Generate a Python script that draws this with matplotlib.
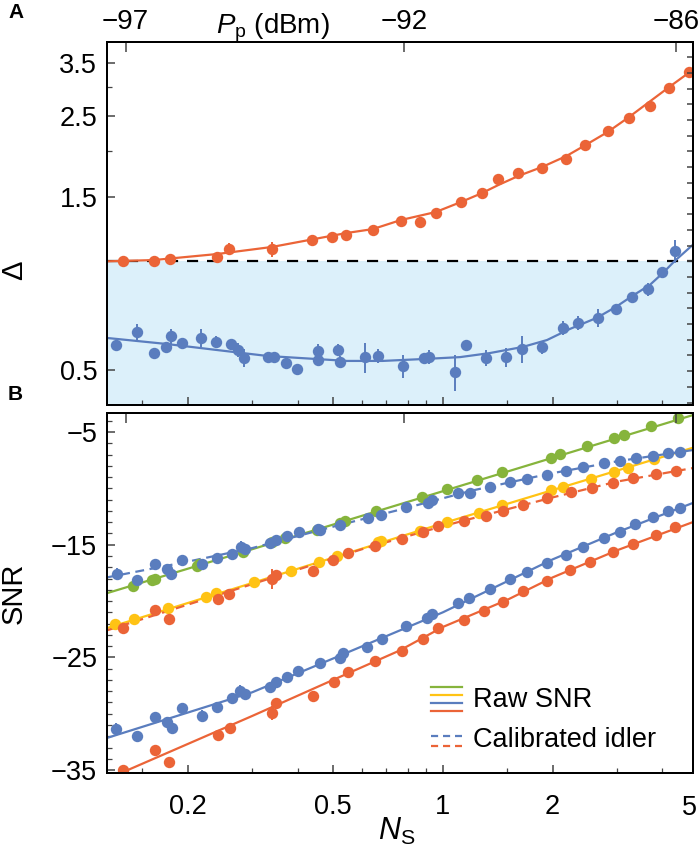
import matplotlib
matplotlib.use('Agg')
import matplotlib.pyplot as plt
from matplotlib.ticker import FixedLocator, NullFormatter, FixedFormatter
from matplotlib.transforms import blended_transform_factory

plt.rcParams['font.family'] = ['Liberation Sans', 'DejaVu Sans']
plt.rcParams['mathtext.fontset'] = 'custom'
plt.rcParams['mathtext.rm'] = 'Liberation Sans'
plt.rcParams['mathtext.it'] = 'Liberation Sans:italic'

ORANGE = '#EB6437'
BLUE = '#5A7DBE'
GREEN = '#86B43C'
YELLOW = '#FFC314'
SHADE = '#DCF0FA'

# ---- panel A: Delta vs N_S ----
a_orange_ns = [0.133, 0.161, 0.179, 0.240, 0.259, 0.340, 0.437, 0.496, 0.542, 0.643, 0.767, 0.865,
               0.955, 1.12, 1.28, 1.42, 1.61, 1.87, 2.18, 2.46, 2.83, 3.23, 3.69, 4.18, 4.74]
a_orange_delta = [0.997, 0.997, 1.01, 1.02, 1.076, 1.076, 1.139, 1.161, 1.175, 1.213, 1.285, 1.277,
                  1.352, 1.449, 1.534, 1.677, 1.742, 1.798, 1.905, 2.08, 2.27, 2.47, 2.66, 2.99, 3.31]
a_orange_err = [0.01, 0.01, 0.02, 0.02, 0.04, 0.05, 0.04, 0.015, 0.01, 0.02, 0.015, 0.015,
                0.015, 0.015, 0.015, 0.02, 0.015, 0.02, 0.02, 0.05, 0.02, 0.02, 0.02, 0.02, 0.02]

a_blue_ns = [0.127, 0.145, 0.161, 0.174, 0.180, 0.193, 0.217, 0.239, 0.262, 0.274,
             0.285, 0.331, 0.344, 0.371, 0.398, 0.454, 0.454, 0.515, 0.523, 0.611,
             0.663, 0.776, 0.887, 0.915, 1.078, 1.155, 1.31, 1.486, 1.645, 1.87,
             2.13, 2.34, 2.67, 2.98, 3.29, 3.66, 3.98, 4.32]
a_blue_delta = [0.585, 0.635, 0.556, 0.578, 0.619, 0.593, 0.612, 0.597, 0.589, 0.567,
                0.539, 0.542, 0.542, 0.522, 0.503, 0.563, 0.532, 0.567, 0.526, 0.542,
                0.545, 0.512, 0.539, 0.542, 0.493, 0.585, 0.539, 0.542, 0.571, 0.578,
                0.652, 0.673, 0.695, 0.735, 0.793, 0.835, 0.930, 1.062]
a_blue_err = [0.015, 0.035, 0.018, 0.01, 0.03, 0.008, 0.034, 0.022, 0.01, 0.025,
              0.03, 0.008, 0.008, 0.018, 0.016, 0.025, 0.02, 0.021, 0.02, 0.052,
              0.024, 0.036, 0.01, 0.024, 0.055, 0.017, 0.027, 0.034, 0.048, 0.024,
              0.03, 0.031, 0.04, 0.026, 0.012, 0.035, 0.022, 0.075]

a_orange_fit_ns = [0.12, 0.161, 0.240, 0.340, 0.542, 0.643, 0.767, 0.955, 1.12, 1.28, 1.42,
                   1.61, 1.87, 2.18, 2.46, 2.83, 3.23, 4.18, 4.84]
a_orange_fit = [0.995, 1.003, 1.042, 1.09, 1.19, 1.221, 1.293, 1.36, 1.449, 1.534, 1.615,
                1.71, 1.81, 1.94, 2.08, 2.26, 2.48, 3.01, 3.35]
a_blue_fit_ns = [0.12, 0.175, 0.240, 0.330, 0.546, 0.683, 0.903, 1.115, 1.344, 1.655, 1.93,
                 2.23, 2.64, 2.98, 3.30, 3.69, 4.01, 4.32, 4.84]
a_blue_fit = [0.612, 0.589, 0.567, 0.546, 0.529, 0.529, 0.536, 0.542, 0.556, 0.578, 0.604,
              0.648, 0.695, 0.745, 0.798, 0.856, 0.924, 0.997, 1.104]

pump_dbm = [-97, -92, -86]
pump_ns = [0.135, 0.782, 4.37]

# ---- panel B: SNR vs N_S ----
green_ns = [0.141, 0.159, 0.162, 0.212, 0.214, 0.283, 0.340, 0.369, 0.451, 0.523, 0.538, 0.655,
            0.875, 1.025, 1.239, 1.45, 1.975, 2.10, 2.49, 2.94, 3.13, 3.73, 4.40]
green_snr = [-18.66, -18.13, -18.04, -16.89, -16.71, -15.65, -14.76, -14.41, -13.70, -13.07, -12.90,
             -12.01, -10.77, -10.06, -9.26, -8.55, -7.31, -6.95, -6.24, -5.53, -5.27, -4.47, -3.76]

bluecal_ns = [0.128, 0.145, 0.162, 0.175, 0.180, 0.193, 0.218, 0.240, 0.264, 0.279,
              0.287, 0.335, 0.348, 0.373, 0.403, 0.454, 0.460, 0.523, 0.623, 0.676,
              0.791, 0.909, 0.932, 1.098, 1.185, 1.344, 1.525, 1.70, 1.93, 2.18,
              2.42, 2.76, 3.05, 3.39, 3.76, 4.13, 4.48]
bluecal_snr = [-17.60, -18.13, -16.71, -17.16, -17.60, -16.36, -16.71, -16.18, -15.83, -15.20,
               -15.38, -14.85, -14.58, -14.23, -13.87, -13.61, -13.70, -13.25, -12.63, -12.36,
               -11.65, -11.30, -11.03, -10.41, -10.41, -9.88, -9.44, -9.17, -8.82, -8.46,
               -8.11, -7.75, -7.57, -7.31, -7.13, -6.86, -6.77]
bluecal_err = [0.55, 0.35, 0.35, 0.15, 0.5, 0.25, 0.45, 0.25, 0.15, 0.5,
               0.15, 0.15, 0.15, 0.2, 0.25, 0.2, 0.2, 0.15, 0.15, 0.15,
               0.15, 0.15, 0.15, 0.15, 0.15, 0.15, 0.15, 0.15, 0.15, 0.15,
               0.15, 0.15, 0.15, 0.15, 0.15, 0.15, 0.15]

yellow_ns = [0.126, 0.142, 0.176, 0.224, 0.239, 0.303, 0.383, 0.457, 0.512, 0.663, 0.676,
             0.864, 1.025, 1.255, 1.45, 1.975, 2.13, 2.55, 2.94, 3.21, 3.78]
yellow_snr = [-22.04, -21.59, -20.62, -19.64, -19.29, -18.31, -17.33, -16.54, -16.00, -14.76, -14.67,
              -13.78, -12.99, -12.19, -11.48, -10.15, -9.88, -9.17, -8.55, -8.19, -7.40]

orangecal_ns = [0.133, 0.162, 0.177, 0.242, 0.260, 0.340, 0.348, 0.440, 0.500, 0.549, 0.651, 0.772,
                0.880, 0.968, 1.14, 1.31, 1.46, 1.655, 1.93, 2.25, 2.56, 2.92, 3.33, 3.85, 4.36]
orangecal_snr = [-22.39, -20.79, -21.59, -19.82, -19.40, -18.04, -17.69, -17.33, -16.36, -15.74,
                 -15.12, -14.49, -13.87, -13.34, -12.90, -12.45, -12.01, -11.48, -10.86, -10.32,
                 -9.97, -9.53, -9.08, -8.73, -8.46]
orangecal_err = [0.4, 0.15, 0.15, 0.45, 0.35, 0.9, 0.3, 0.2, 0.15, 0.15, 0.15, 0.15,
                 0.15, 0.15, 0.15, 0.15, 0.15, 0.15, 0.15, 0.15, 0.15, 0.15, 0.15, 0.15, 0.15]

blueraw_ns = [0.127, 0.145, 0.162, 0.175, 0.181, 0.193, 0.218, 0.240, 0.264, 0.278,
              0.287, 0.335, 0.348, 0.373, 0.400, 0.460, 0.523, 0.532, 0.619, 0.680,
              0.791, 0.903, 0.932, 1.098, 1.178, 1.344, 1.525, 1.70, 1.93, 2.18,
              2.42, 2.76, 3.05, 3.37, 3.76, 4.13, 4.48]
blueraw_snr = [-31.35, -31.97, -30.29, -30.73, -31.26, -29.49, -30.20, -29.40, -28.60, -27.98,
               -28.25, -27.63, -27.18, -26.74, -26.21, -25.50, -25.05, -24.61, -24.08, -23.37,
               -22.21, -21.50, -21.15, -20.17, -19.73, -18.93, -18.04, -17.42, -16.62, -15.91,
               -15.20, -14.41, -13.87, -13.16, -12.54, -12.01, -11.74]
blueraw_err = [0.5, 0.45, 0.45, 0.15, 0.55, 0.2, 0.5, 0.2, 0.15, 0.55,
               0.15, 0.15, 0.2, 0.15, 0.2, 0.35, 0.15, 0.15, 0.2, 0.15,
               0.15, 0.15, 0.2, 0.15, 0.15, 0.15, 0.15, 0.15, 0.15, 0.15,
               0.15, 0.15, 0.15, 0.15, 0.15, 0.15, 0.15]

orangeraw_ns = [0.133, 0.162, 0.177, 0.242, 0.261, 0.340, 0.348, 0.440, 0.503, 0.549, 0.651, 0.772,
                0.880, 0.968, 1.14, 1.294, 1.46, 1.655, 1.93, 2.23, 2.53, 2.92, 3.33, 3.85, 4.32]
orangeraw_snr = [-34.99, -33.22, -34.28, -31.89, -31.26, -29.93, -29.05, -28.43, -27.18, -26.30,
                 -25.32, -24.43, -23.37, -22.39, -21.68, -20.88, -20.08, -19.11, -18.22, -17.24,
                 -16.54, -15.65, -14.94, -14.14, -13.43]
orangeraw_err = [0.3, 0.15, 0.15, 0.45, 0.3, 0.6, 0.45, 0.2, 0.15, 0.15, 0.15, 0.15,
                 0.15, 0.15, 0.15, 0.15, 0.15, 0.15, 0.15, 0.15, 0.15, 0.15, 0.15, 0.15, 0.15]

# fitted curves
green_fit_ns = [0.12, 0.3, 1.0, 4.84]
green_fit = [-19.3, -15.4, -10.25, -3.5]
bluecal_fit_ns = [0.12, 0.2, 0.3, 0.5, 0.76, 1.2, 1.96, 3.0, 4.84]
bluecal_fit = [-17.9, -16.5, -15.3, -13.4, -11.9, -10.2, -8.7, -7.6, -6.6]
yellow_fit_ns = [0.12, 0.3, 1.0, 2.0, 4.84]
yellow_fit = [-22.4, -18.4, -13.1, -10.15, -6.4]
orangecal_fit_ns = [0.12, 0.3, 0.6, 1.0, 2.0, 3.0, 4.84]
orangecal_fit = [-22.6, -18.5, -15.4, -13.35, -10.8, -9.4, -8.2]
blueraw_fit_ns = [0.12, 0.3, 0.5, 1.0, 2.0, 3.0, 4.84]
blueraw_fit = [-32.15, -28.1, -25.1, -21.0, -16.3, -13.9, -11.3]
orangeraw_fit_ns = [0.12, 0.3, 0.5, 0.76, 1.0, 1.5, 2.0, 3.0, 4.84]
orangeraw_fit = [-35.8, -30.2, -27.0, -24.4, -22.3, -19.9, -17.9, -15.5, -13.0]

ns_major = [0.2, 0.5, 1, 2, 5]
ns_major_labels = ['0.2', '0.5', '1', '2', '5']
ns_minor = [0.15, 0.3, 0.4, 0.6, 0.7, 0.8, 0.9, 1.5, 3, 4]

XLIM = (0.12, 4.85)
TICK_COLOR = '#444444'
FS = 19.5
MS = 8.2


def style_ticks(ax):
    ax.tick_params(which='both', direction='in', color=TICK_COLOR, labelsize=FS)
    ax.tick_params(which='major', length=6, width=1.1)
    ax.tick_params(which='minor', length=3.5, width=0.9)
    for s in ax.spines.values():
        s.set_linewidth(1.4)


fig = plt.figure(figsize=(7, 8.49), dpi=100)
axA = fig.add_axes([107 / 700, 1 - 405 / 849, 586 / 700, 363 / 849])
axB = fig.add_axes([107 / 700, 1 - 773 / 849, 586 / 700, 360 / 849])

ekw = dict(fmt='o', ms=MS, mew=0, capsize=3.2, elinewidth=1.4, capthick=1.4, zorder=3)

# ---------- A ----------
axA.set_xscale('log')
axA.set_yscale('log')
axA.set_xlim(*XLIM)
axA.set_ylim(0.4, 4.0)
axA.axhspan(0.4, 1.0, color=SHADE, lw=0, zorder=0)
axA.axhline(1.0, color='black', lw=1.6, dashes=(5, 4), zorder=1)
axA.plot(a_orange_fit_ns, a_orange_fit, color=ORANGE, lw=1.6, zorder=2)
axA.plot(a_blue_fit_ns, a_blue_fit, color=BLUE, lw=1.6, zorder=2)
axA.errorbar(a_orange_ns, a_orange_delta, yerr=a_orange_err, color=ORANGE, **ekw)
axA.errorbar(a_blue_ns, a_blue_delta, yerr=a_blue_err, color=BLUE, **ekw)

axA.xaxis.set_major_locator(FixedLocator(ns_major))
axA.xaxis.set_minor_locator(FixedLocator(ns_minor))
axA.xaxis.set_major_formatter(NullFormatter())
axA.xaxis.set_minor_formatter(NullFormatter())
axA.yaxis.set_major_locator(FixedLocator([0.5, 1.5, 2.5, 3.5]))
axA.yaxis.set_major_formatter(FixedFormatter(['0.5', '1.5', '2.5', '3.5']))
axA.yaxis.set_minor_locator(FixedLocator([2, 3]))
axA.yaxis.set_minor_formatter(NullFormatter())
style_ticks(axA)
axA.tick_params(axis='y', pad=7)

# top axis: pump power
topA = axA.twiny()
topA.set_xscale('log')
topA.set_xlim(*XLIM)
topA.xaxis.set_major_locator(FixedLocator(pump_ns))
topA.xaxis.set_major_formatter(FixedFormatter(['\u2212%d' % abs(v) for v in pump_dbm]))
topA.xaxis.set_minor_locator(FixedLocator([]))
style_ticks(topA)
topA.tick_params(axis='x', length=7, pad=5, labelsize=20)

# right axis: unlabeled evenly spaced ticks
rightA = axA.twinx()
rightA.set_yscale('log')
rightA.set_ylim(0.4, 4.0)
rightA.yaxis.set_major_locator(FixedLocator([10 ** (-0.348 + 0.04325 * k) for k in range(-1, 23)]))
rightA.yaxis.set_major_formatter(NullFormatter())
rightA.yaxis.set_minor_locator(FixedLocator([]))
style_ticks(rightA)
rightA.tick_params(axis='y', length=4)

# ---------- B ----------
axB.set_xscale('log')
axB.set_xlim(*XLIM)
axB.set_ylim(-35.26, -3.31)

fits = [
    (green_fit_ns, green_fit, GREEN, '-'),
    (yellow_fit_ns, yellow_fit, YELLOW, '-'),
    (blueraw_fit_ns, blueraw_fit, BLUE, '-'),
    (orangeraw_fit_ns, orangeraw_fit, ORANGE, '-'),
    (bluecal_fit_ns, bluecal_fit, BLUE, '--'),
    (orangecal_fit_ns, orangecal_fit, ORANGE, '--'),
]
for xs, ys, c, ls in fits:
    line, = axB.plot(xs, ys, color=c, lw=1.6, ls=ls, zorder=2)
    if ls == '--':
        line.set_dashes((4, 2.5))

axB.errorbar(green_ns, green_snr, yerr=0.1, color=GREEN, **ekw)
axB.errorbar(yellow_ns, yellow_snr, yerr=0.1, color=YELLOW, **ekw)
axB.errorbar(orangecal_ns, orangecal_snr, yerr=orangecal_err, color=ORANGE, **ekw)
axB.errorbar(bluecal_ns, bluecal_snr, yerr=bluecal_err, color=BLUE, **ekw)
axB.errorbar(orangeraw_ns, orangeraw_snr, yerr=orangeraw_err, color=ORANGE, **ekw)
axB.errorbar(blueraw_ns, blueraw_snr, yerr=blueraw_err, color=BLUE, **ekw)

axB.xaxis.set_major_locator(FixedLocator(ns_major))
axB.xaxis.set_major_formatter(FixedFormatter(ns_major_labels))
axB.xaxis.set_minor_locator(FixedLocator(ns_minor))
axB.xaxis.set_minor_formatter(NullFormatter())
axB.yaxis.set_major_locator(FixedLocator([-5, -15, -25, -35]))
axB.yaxis.set_major_formatter(FixedFormatter(['\u22125', '\u221215', '\u221225', '\u221235']))
axB.yaxis.set_minor_locator(FixedLocator(list(range(-35, -3))))
axB.yaxis.set_minor_formatter(NullFormatter())
style_ticks(axB)
axB.tick_params(axis='x', pad=15)
axB.tick_params(axis='y', pad=7)

# the "5" label sits just past the right limit, so place it by hand
bt = blended_transform_factory(axB.transData, axB.transAxes)
axB.text(4.74, -0.06, ns_major_labels[-1], transform=bt, fontsize=FS, ha='center', va='top',
         clip_on=False)

topB = axB.twiny()
topB.set_xscale('log')
topB.set_xlim(*XLIM)
topB.xaxis.set_major_locator(FixedLocator(pump_ns))
topB.xaxis.set_major_formatter(NullFormatter())
topB.xaxis.set_minor_locator(FixedLocator([]))
style_ticks(topB)
topB.tick_params(axis='x', length=7)

# legend drawn by hand
tr = axB.transAxes
for yy, c in zip([0.239, 0.217, 0.194, 0.172], [GREEN, YELLOW, BLUE, ORANGE]):
    axB.plot([0.553, 0.606], [yy, yy], color=c, lw=1.6, transform=tr, zorder=4)
for yy, c in zip([0.103, 0.075], [BLUE, ORANGE]):
    ln, = axB.plot([0.553, 0.606], [yy, yy], color=c, lw=1.6, transform=tr, zorder=4)
    ln.set_dashes((3.2, 2.2))
axB.text(0.625, 0.203, 'Raw SNR', transform=tr, fontsize=FS, va='center', ha='left')
axB.text(0.625, 0.092, 'Calibrated idler', transform=tr, fontsize=FS, va='center', ha='left')

# labels
fig.text(8 / 700, 1 - 13 / 849, 'A', fontsize=15, fontweight='bold', va='center', ha='left')
fig.text(8 / 700, 1 - 395 / 849, 'B', fontsize=15, fontweight='bold', va='center', ha='left')
fig.text(14 / 700, 1 - 270 / 849, '\u0394', fontsize=21, rotation=90, va='center', ha='center')
fig.text(14 / 700, 1 - 593 / 849, 'SNR', fontsize=21, rotation=90, va='center', ha='center')
fig.text(273 / 700, 1 - 33 / 849, r'$P_\mathrm{p}$ (dBm)', fontsize=20, va='baseline', ha='center')
fig.text(397 / 700, 1 - 840 / 849, r'$N_\mathrm{S}$', fontsize=22, va='baseline', ha='center')

fig.savefig('out.png', dpi=100)
